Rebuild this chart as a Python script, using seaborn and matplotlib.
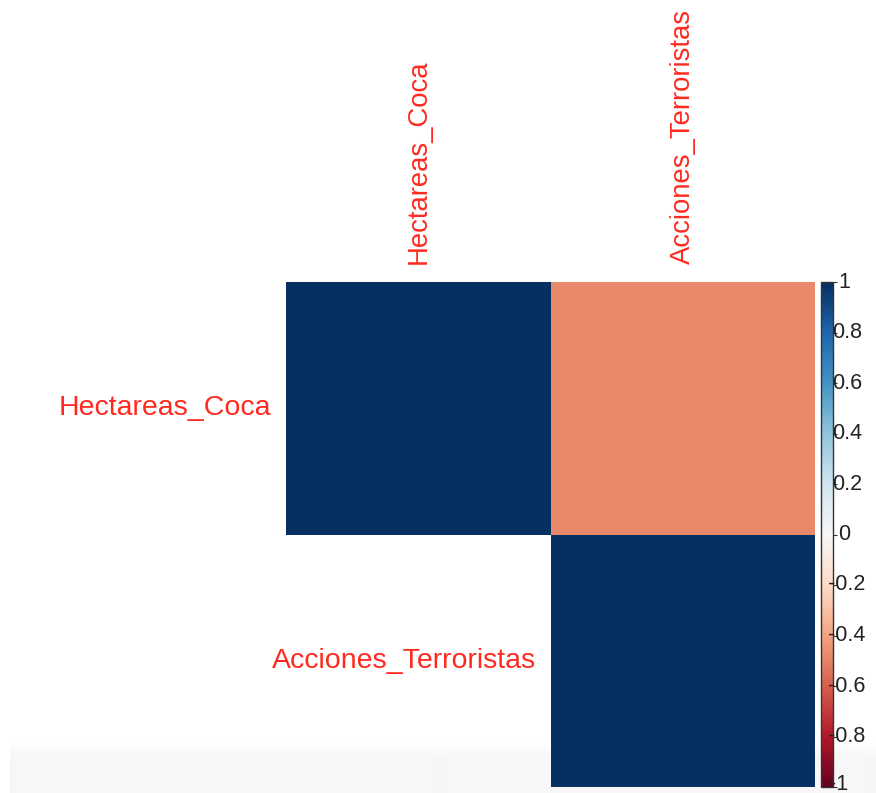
import numpy as np
import pandas as pd
import matplotlib
matplotlib.use("Agg")
import matplotlib.pyplot as plt
from matplotlib.transforms import blended_transform_factory, ScaledTranslation
import seaborn as sns

# Correlation matrix between coca hectares and terrorist actions
variables = ["Hectareas_Coca", "Acciones_Terroristas"]
corr_values = [
    [1.00, -0.48],
    [-0.48, 1.00],
]
cbar_ticks = [-1, -0.8, -0.6, -0.4, -0.2, 0, 0.2, 0.4, 0.6, 0.8, 1]
cbar_labels = ["-1", "-0.8", "-0.6", "-0.4", "-0.2", "0", "0.2", "0.4", "0.6", "0.8", "1"]

corr = pd.DataFrame(corr_values, index=variables, columns=variables)
mask = np.tril(np.ones_like(corr, dtype=bool), k=-1)

sns.set_style("white")
plt.rcParams["font.family"] = ["Liberation Sans", "DejaVu Sans"]

W, H = 876, 793
fig = plt.figure(figsize=(W / 100, H / 100), dpi=100)
fig.patch.set_facecolor("white")

# faint grey band along the bottom edge, fading in from the top
bg = fig.add_axes([10 / W, 0, 1 - 10 / W, 52 / H], zorder=-5)
rows = np.linspace(0, 1, 52)
shade = 1.0 - 0.032 * np.clip(rows / 0.3, 0, 1)
bg.imshow(np.repeat(shade.reshape(-1, 1), 2, axis=1), cmap="gray", vmin=0, vmax=1,
          aspect="auto", extent=[0, 1, 0, 1], origin="upper", interpolation="bilinear")
bg.axis("off")

ax = fig.add_axes([286 / W, 1 - 787 / H, (815 - 286) / W, (787 - 282) / H])
cax = fig.add_axes([820.5 / W, 1 - 787 / H, 12.5 / W, (787 - 282) / H])

sns.heatmap(
    corr, mask=mask, cmap="RdBu", vmin=-1, vmax=1, ax=ax, cbar_ax=cax,
    square=False, linewidths=0,
    xticklabels=False, yticklabels=False,
)
ax.set_facecolor("none")
ax.patch.set_alpha(0)
ax.set_xlabel("")
ax.set_ylabel("")
for s in ax.spines.values():
    s.set_visible(False)

label_color = "#ff2a1f"
for i, name in enumerate(variables):
    # column labels above the matrix, vertical
    ax.text(i + 0.5, -0.07, name, rotation=90, ha="center", va="bottom",
            color=label_color, fontsize=19.8)
    # row labels next to the diagonal cell
    ax.text(i - 0.055, i + 0.5, name, ha="right", va="center",
            color=label_color, fontsize=20.5)

cbar = ax.collections[0].colorbar
cbar.set_ticks(cbar_ticks)
cbar.set_ticklabels([])
cax.tick_params(axis="y", length=3, width=0.8, colors="#333333", direction="out")
cbar.outline.set_edgecolor("#333333")
cbar.outline.set_linewidth(1.0)

# colour-bar labels written beside the bar
trans = blended_transform_factory(cax.transAxes, cax.transData)
for val, lab in zip(cbar_ticks, cbar_labels):
    if len(lab) == 1:
        dx = 17.5
    elif lab.startswith("-") and len(lab) > 2:
        dx = 7.5
    elif lab.startswith("-"):
        dx = 8
    else:
        dx = 11.5
    dy = 3 if val == -1 else 0
    t = trans + ScaledTranslation(dx / 100, dy / 100, fig.dpi_scale_trans)
    cax.text(0, val, lab, transform=t, ha="left", va="center",
             fontsize=15.5, color="#222222", clip_on=False, zorder=5)

fig.savefig("out.png", dpi=100, facecolor="white")
